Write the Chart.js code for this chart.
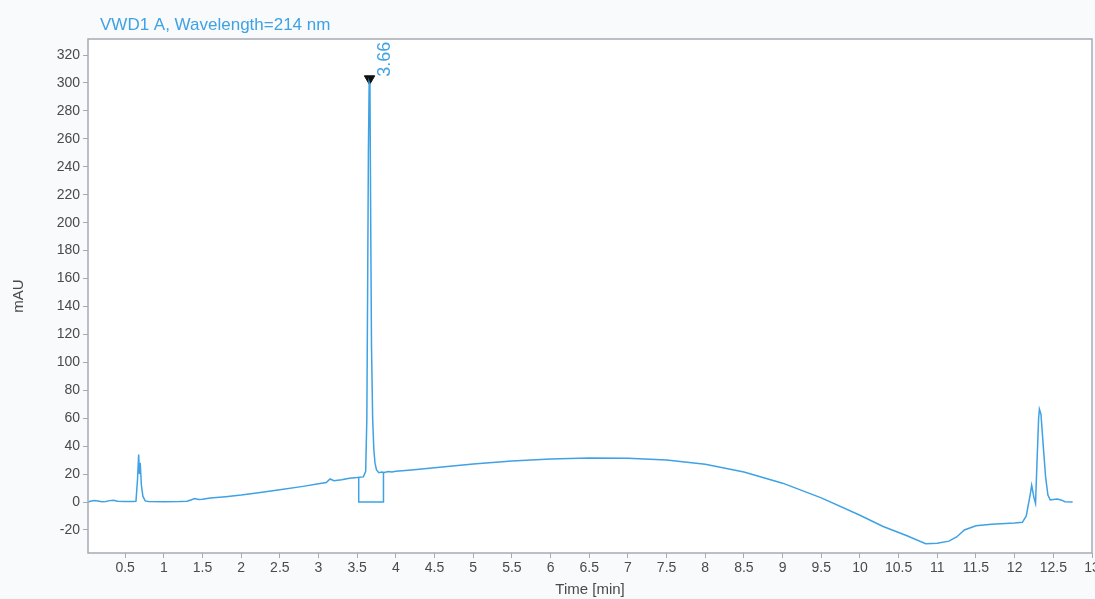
<!DOCTYPE html>
<html>
<head>
<meta charset="utf-8">
<script src="https://cdn.jsdelivr.net/npm/chart.js@4.4.1/dist/chart.umd.min.js"></script>
<style>
html,body{margin:0;padding:0;background:#f9fafb;}
canvas{display:block;}
</style>
</head>
<body>
<canvas id="c" width="1095" height="599"></canvas>
<script>
// ---- Data ----
const chartTitle = "VWD1 A, Wavelength=214 nm";
const xTitle = "Time [min]";
const yTitle = "mAU";

const times = [0.02,0.05,0.10,0.15,0.20,0.25,0.30,0.35,0.40,0.50,0.60,0.64,0.66,0.675,0.685,0.695,0.71,0.73,0.76,0.80,1.00,1.20,1.30,1.35,1.40,1.45,1.50,1.60,1.80,2.00,2.20,2.50,2.80,3.00,3.10,3.15,3.20,3.30,3.40,3.50,3.58,3.61,3.625,3.635,3.645,3.655,3.665,3.675,3.685,3.70,3.715,3.73,3.75,3.78,3.82,3.85,3.90,3.95,4.00,4.20,4.50,5.00,5.50,6.00,6.50,7.00,7.50,8.00,8.50,9.00,9.50,10.00,10.30,10.60,10.85,11.00,11.15,11.25,11.35,11.50,11.70,12.00,12.10,12.15,12.20,12.22,12.25,12.27,12.29,12.31,12.32,12.34,12.37,12.40,12.43,12.46,12.50,12.55,12.60,12.65,12.75];
const signal = [0,0.5,1,0.8,0.2,0.3,1,1.2,0.5,0.3,0.3,0.5,16,34,20,28,12,4,0.8,0.3,0.2,0.3,0.5,1.5,2.5,1.8,2.0,2.8,3.8,5.0,6.5,8.8,11.2,13,14,16.5,15.2,16,17,17.5,18,22,60,150,250,300,298,200,112,60,38,28,23,21,21.5,21.2,21.8,21.5,22,23,24.5,27.3,29.3,30.8,31.5,31.3,30,27,21.5,13.5,3,-9.5,-17.5,-24,-29.8,-29.5,-28,-25,-20,-17,-16,-15,-14.5,-10,5,12,3,-1,30,60,66.5,63,40,18,5,1.5,1.8,2.2,1.5,0.2,0];

const baselineTimes = [3.52,3.52,3.84,3.84];
const baselineValues = [17.9,0,0,21.5];

const peakTimes = [3.66];
const peakHeights = [303];
const peakLabels = ["3.66"];

const xTicks = [0.5,1,1.5,2,2.5,3,3.5,4,4.5,5,5.5,6,6.5,7,7.5,8,8.5,9,9.5,10,10.5,11,11.5,12,12.5,13];
const yTicks = [-20,0,20,40,60,80,100,120,140,160,180,200,220,240,260,280,300,320];

// ---- Chart ----
const lineColor = "#3ea2e4";
const axisColor = "#a6aab4";
const textColor = "#4a4a4a";
const fontFam = "'Liberation Sans', Arial, sans-serif";

const bgPlugin = {
  id: "bg",
  beforeDraw(chart) {
    const {ctx, chartArea: a} = chart;
    ctx.save();
    ctx.fillStyle = "#f9fafb";
    ctx.fillRect(0, 0, chart.width, chart.height);
    ctx.fillStyle = "#ffffff";
    ctx.fillRect(a.left, a.top, a.right - a.left, a.bottom - a.top);
    ctx.restore();
  },
  afterDraw(chart) {
    const {ctx, chartArea: a, scales} = chart;
    ctx.save();
    ctx.strokeStyle = axisColor;
    ctx.lineWidth = 1.5;
    ctx.strokeRect(a.left, a.top, a.right - a.left, a.bottom - a.top);
    // title
    ctx.fillStyle = lineColor;
    ctx.font = "17px " + fontFam;
    ctx.textBaseline = "middle";
    ctx.textAlign = "left";
    ctx.fillText(chartTitle, a.left + 12, 25);
    // peak labels
    ctx.font = "18px " + fontFam;
    for (let i = 0; i < peakTimes.length; i++) {
      const px = scales.x.getPixelForValue(peakTimes[i]);
      const py = scales.y.getPixelForValue(peakHeights[i]);
      ctx.save();
      ctx.translate(px + 15, py - 2);
      ctx.rotate(-Math.PI / 2);
      ctx.textAlign = "left";
      ctx.textBaseline = "middle";
      ctx.fillStyle = lineColor;
      ctx.fillText(peakLabels[i], 0, 0);
      ctx.restore();
    }
    ctx.restore();
  }
};

new Chart(document.getElementById("c"), {
  type: "scatter",
  data: {
    datasets: [
      {
        data: times.map((t, i) => ({x: t, y: signal[i]})),
        showLine: true,
        borderColor: lineColor,
        borderWidth: 1.5,
        pointRadius: 0,
        tension: 0
      },
      {
        data: baselineTimes.map((t, i) => ({x: t, y: baselineValues[i]})),
        showLine: true,
        borderColor: lineColor,
        borderWidth: 1.5,
        pointRadius: 0,
        tension: 0
      },
      {
        data: peakTimes.map((t, i) => ({x: t, y: peakHeights[i]})),
        showLine: false,
        pointStyle: "triangle",
        rotation: 180,
        pointRadius: 6,
        backgroundColor: "#111111",
        borderColor: "#111111",
        borderWidth: 1
      }
    ]
  },
  options: {
    responsive: false,
    animation: false,
    devicePixelRatio: 1,
    layout: {autoPadding: false, padding: {left: 0, right: 3, top: 39, bottom: 0}},
    plugins: {legend: {display: false}, tooltip: {enabled: false}, title: {display: false}},
    scales: {
      x: {
        type: "linear",
        min: 0.02,
        max: 13,
        afterBuildTicks: s => { s.ticks = xTicks.map(v => ({value: v})); },
        afterFit: s => { s.height = 46; s.paddingLeft = 0; s.paddingRight = 0; },
        grid: {drawOnChartArea: false, drawTicks: true, tickLength: 5, color: axisColor},
        border: {display: false},
        ticks: {
          color: textColor,
          font: {family: fontFam, size: 14},
          padding: 2,
          maxRotation: 0,
          autoSkip: false,
          callback: v => String(v)
        },
        title: {display: true, text: xTitle, color: textColor, font: {family: fontFam, size: 15}, padding: {top: 0, bottom: 0}}
      },
      y: {
        type: "linear",
        min: -36.5,
        max: 331.5,
        afterBuildTicks: s => { s.ticks = yTicks.map(v => ({value: v})); },
        afterFit: s => { s.width = 88; s.paddingTop = 0; s.paddingBottom = 0; },
        grid: {drawOnChartArea: false, drawTicks: true, tickLength: 5, color: axisColor},
        border: {display: false},
        ticks: {
          color: textColor,
          font: {family: fontFam, size: 14},
          padding: 3,
          autoSkip: false,
          callback: v => String(v)
        },
        title: {display: true, text: yTitle, color: textColor, font: {family: fontFam, size: 15}, padding: {top: 10, bottom: 0}}
      }
    }
  },
  plugins: [bgPlugin]
});
</script>
</body>
</html>
